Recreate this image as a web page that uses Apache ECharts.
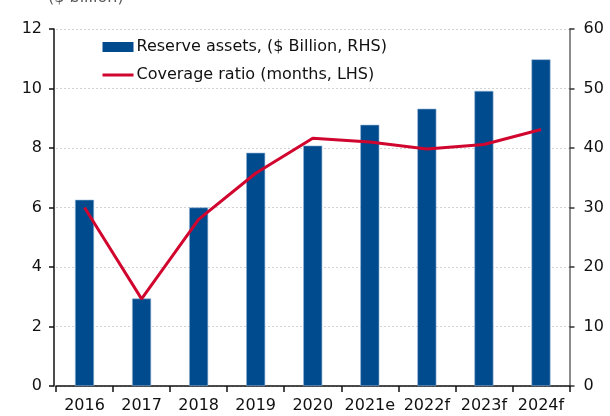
<!DOCTYPE html>
<html>
<head>
<meta charset="utf-8">
<style>
  html, body { margin: 0; padding: 0; background: #fff; }
  #chart { width: 610px; height: 416px; }
</style>
<script src="https://cdn.jsdelivr.net/npm/echarts@6/dist/echarts.min.js"></script>
</head>
<body>
<div id="chart"></div>
<script>
// Years (e = estimate, f = forecast)
const categories = ['2016', '2017', '2018', '2019', '2020', '2021e', '2022f', '2023f', '2024f'];
// Reserve assets, $ billion (right axis)
const reserveAssets = [31.3, 14.7, 30.0, 39.2, 40.4, 43.9, 46.6, 49.6, 54.9];
// Import coverage ratio, months (left axis)
const coverageRatio = [6.0, 2.93, 5.6, 7.15, 8.33, 8.2, 7.97, 8.12, 8.62];
// Axis tick marks
const leftTicks = [0, 2, 4, 6, 8, 10, 12];
const rightTicks = [0, 10, 20, 30, 40, 50, 60];

const FONT = 'DejaVu Sans';
const BLUE = '#004B8D';
const RED = '#D1062F';

const chart = echarts.init(document.getElementById('chart'), null, { renderer: 'canvas' });

chart.setOption({
  animation: false,
  textStyle: { fontFamily: FONT },
  grid: { left: 56, right: 40.5, top: 29, bottom: 30, containLabel: false },
  graphic: [{
    type: 'text',
    left: 48,
    top: -10,
    style: { text: '($ billion)', font: '16px "DejaVu Sans"', fill: '#595959' }
  }],
  legend: {
    orient: 'vertical',
    left: 96,
    top: 34,
    itemWidth: 31,
    itemHeight: 10,
    itemGap: 12,
    textStyle: { fontFamily: FONT, fontSize: 16, color: '#111', padding: [0, 0, 0, -2] },
    data: [
      { name: 'Reserve assets, ($ Billion, RHS)', icon: 'rect', itemStyle: { borderWidth: 0 } },
      {
        name: 'Coverage ratio (months, LHS)',
        itemStyle: { opacity: 0 },
        lineStyle: { color: RED, width: 3 }
      }
    ]
  },
  xAxis: {
    type: 'category',
    data: categories,
    boundaryGap: true,
    axisLine: { lineStyle: { color: '#111', width: 1.5 } },
    axisTick: { show: true, alignWithLabel: false, length: 6, inside: false, lineStyle: { color: '#111', width: 1.5 } },
    axisLabel: { color: '#111', fontSize: 16, margin: 12, fontFamily: FONT, interval: 0 }
  },
  yAxis: [
    {
      type: 'value',
      min: leftTicks[0],
      max: leftTicks[leftTicks.length - 1],
      interval: leftTicks[1] - leftTicks[0],
      position: 'left',
      offset: 2,
      axisLine: { show: true, lineStyle: { color: '#111', width: 1.5 } },
      axisTick: { show: true, length: 5, lineStyle: { color: '#111', width: 1.5 } },
      axisLabel: { color: '#111', fontSize: 16, margin: 12, fontFamily: FONT },
      splitLine: { show: true, lineStyle: { color: '#d2d2d2', type: [2, 2], width: 1 } }
    },
    {
      type: 'value',
      min: rightTicks[0],
      max: rightTicks[rightTicks.length - 1],
      interval: rightTicks[1] - rightTicks[0],
      position: 'right',
      axisLine: { show: true, lineStyle: { color: '#666', width: 1.5 } },
      axisTick: { show: true, length: 5, lineStyle: { color: '#333', width: 1.5 } },
      axisLabel: { color: '#111', fontSize: 16, margin: 14, fontFamily: FONT },
      splitLine: { show: false }
    }
  ],
  series: [
    {
      name: 'Reserve assets, ($ Billion, RHS)',
      type: 'bar',
      yAxisIndex: 1,
      data: reserveAssets,
      barWidth: 19,
      itemStyle: { color: BLUE, borderColor: '#8fb0d3', borderWidth: 0.6 },
      z: 2
    },
    {
      name: 'Coverage ratio (months, LHS)',
      type: 'line',
      yAxisIndex: 0,
      data: coverageRatio,
      symbol: 'none',
      lineStyle: { color: RED, width: 3 },
      itemStyle: { color: RED },
      z: 3
    }
  ]
});
</script>
</body>
</html>
